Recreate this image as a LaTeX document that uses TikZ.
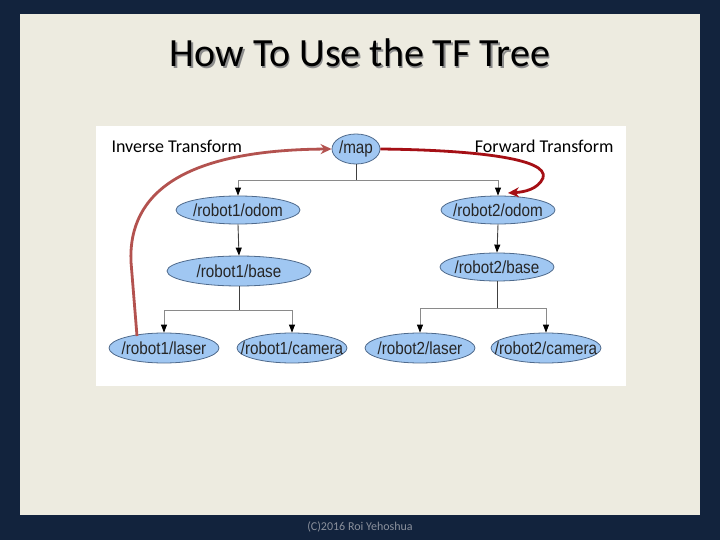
\documentclass[tikz,border=0pt]{standalone}
\usepackage{fontspec}
\setmainfont{Carlito}
\newfontfamily\nodefont[FakeStretch=0.87]{Liberation Sans}
\usetikzlibrary{shapes.geometric,arrows.meta}
\definecolor{navy}{HTML}{12233D}
\definecolor{panel}{HTML}{EDEBE0}
\definecolor{nodefill}{HTML}{A0C7F2}
\definecolor{nodeline}{HTML}{4F6A8C}
\definecolor{edgegray}{HTML}{8A8A8A}
\definecolor{edgedark}{HTML}{404040}
\definecolor{invred}{HTML}{B3524F}
\definecolor{fwdred}{HTML}{A50F15}
\definecolor{footgray}{HTML}{8A909C}
\newcommand{\tftext}[1]{\makebox[0pt]{#1}}
\tikzset{
  tfnode/.style={ellipse, draw=nodeline, fill=nodefill, line width=0.8pt, inner sep=0pt,
    minimum height=29pt, font=\nodefont\fontsize{17.5}{19}\selectfont, text=black!85},
  edge/.style={draw=edgegray, line width=0.9pt, -{Triangle[length=8pt,width=6pt,fill=black,color=black]}},
  plain/.style={draw=edgedark, line width=0.9pt},
  redarrow/.style={line width=2.8pt, -{Stealth[length=11pt,width=10pt]}},
  lbl/.style={font=\fontsize{18}{20}\selectfont, text=black}
}
\begin{document}
\begin{tikzpicture}[x=1pt,y=-1pt]
\fill[navy] (0,0) rectangle (720,540);
\useasboundingbox (0,0) rectangle (720,540);
\fill[panel] (20,14) rectangle (700,515);
\fill[white] (96,126) rectangle (626,386);
% title
\node[text=black!45, font=\fontsize{40}{44}\selectfont] (titleshadow) at (361.5,54.5) {How To Use the TF Tree};
\node[text=black, font=\fontsize{40}{44}\selectfont] (title) at (360,53) {How To Use the TF Tree};
% nodes
\node[tfnode, minimum width=48pt, minimum height=30pt] (map) at (356,149) {\tftext{/map}};
\node[tfnode, minimum width=124pt, minimum height=28pt] (r1odom) at (238,210) {\tftext{/robot1/odom}};
\node[tfnode, minimum width=114pt, minimum height=28pt] (r2odom) at (498,210) {\tftext{/robot2/odom}};
\node[tfnode, minimum width=144pt, minimum height=30pt] (r1base) at (239,271) {\tftext{/robot1/base}};
\node[tfnode, minimum width=114pt, minimum height=28pt] (r2base) at (497,267) {\tftext{/robot2/base}};
\node[tfnode, minimum width=110pt, minimum height=30pt] (r1laser) at (164,348) {\tftext{/robot1/laser}};
\node[tfnode, minimum width=110pt, minimum height=30pt] (r1cam) at (292,348) {\tftext{/robot1/camera}};
\node[tfnode, minimum width=110pt, minimum height=30pt] (r2laser) at (420,348) {\tftext{/robot2/laser}};
\node[tfnode, minimum width=110pt, minimum height=30pt] (r2cam) at (546,348) {\tftext{/robot2/camera}};
% bus coordinates
\coordinate (busA) at (0,180);
\coordinate (busB) at (0,310);
\coordinate (busC) at (0,308);
% tree edges
\draw[plain] (map.south) -- (map.south |- busA);
\draw[edge] (map.south |- busA) -| (r1odom.north);
\draw[edge] (map.south |- busA) -| (r2odom.north);
\draw[edge, draw=edgedark] (r1odom.south) -- (r1base.north);
\draw[edge, draw=edgedark] (r2odom.south) -- (r2base.north);
\draw[plain] (r1base.south) -- (r1base.south |- busB);
\draw[edge] (r1base.south |- busB) -| (r1laser.north);
\draw[edge] (r1base.south |- busB) -| (r1cam.north);
\draw[plain] (r2base.south) -- (r2base.south |- busC);
\draw[edge] (r2base.south |- busC) -| (r2laser.north);
\draw[edge] (r2base.south |- busC) -| (r2cam.north);
% transform arrows
\coordinate (invstart) at (137,336);
\coordinate (fwdend) at (508,193);
\draw[redarrow, invred] (invstart) -- (131,262) .. controls (128,192) and (185,150) .. (map.west);
\draw[redarrow, fwdred] (map.east) .. controls (470,150) and (550,158) .. (543,178) .. controls (538,189) and (525,192) .. (fwdend);
% labels
\node[lbl, anchor=west] (inv) at (108,146) {Inverse Transform};
\node[lbl, anchor=east] (fwd) at (617,146) {Forward Transform};
% footer
\node[text=footgray, font=\fontsize{12}{14}\selectfont] (foot) at (360,527) {(C)2016 Roi Yehoshua};
\end{tikzpicture}
\end{document}
